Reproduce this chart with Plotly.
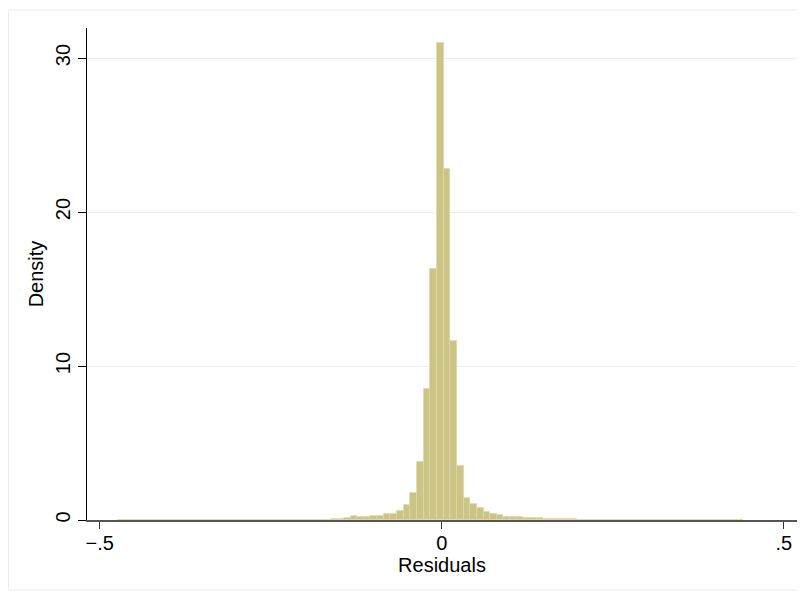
import numpy as np
import plotly.graph_objects as go

# Histogram of residuals (density scale)
bin_start = -0.4735
bin_width = 0.00972
density = [
    # left tail (bins 0-29)
    0.01, 0.01, 0.02, 0.02, 0.03, 0.02, 0.01, 0.01, 0.01, 0.01,
    0.01, 0.01, 0.01, 0.01, 0.01, 0.01, 0.01, 0.01, 0.01, 0.01,
    0.01, 0.01, 0.01, 0.01, 0.01, 0.02, 0.01, 0.02, 0.02, 0.02,
    # bins 30-47
    0.02, 0.03, 0.04, 0.05, 0.10, 0.26, 0.22, 0.22, 0.26, 0.26,
    0.37, 0.37, 0.58, 1.00, 1.77, 3.75, 8.50, 16.3,
    # peak bin 48
    30.95,
    # bins 49-70
    22.8, 11.6, 3.50, 1.40, 1.04, 0.80, 0.52, 0.41, 0.35, 0.22,
    0.20, 0.20, 0.15, 0.12, 0.10, 0.08, 0.06, 0.05, 0.04, 0.04,
    0.03, 0.03,
    # right tail (bins 71-93)
    0.02, 0.02, 0.02, 0.02, 0.01, 0.01, 0.01, 0.01, 0.01, 0.01,
    0.01, 0.01, 0.01, 0.01, 0.01, 0.01, 0.01, 0.01, 0.01, 0.01,
    0.01, 0.01, 0.01,
]
x_tickvals = [-0.5, 0, 0.5]
x_ticktext = ["\u2212.5", "0", ".5"]
y_tickvals = [0, 10, 20, 30]
y_ticktext = ["0", "10", "20", "30"]

centers = bin_start + bin_width * (np.arange(len(density)) + 0.5)

fig = go.Figure()
fig.add_trace(go.Bar(
    x=centers, y=density, width=bin_width,
    marker=dict(color="#CBC485", line=dict(color="#DCD7A8", width=0.8)),
    showlegend=False,
))

# page body has an 8px default margin; the figure is sized to fill the rest
W, H = 798, 588
L, R, T, B = 79, 9, 20, 76
PW, PH = W - L - R, H - T - B

FONT = "Liberation Sans, Arial, sans-serif"
fig.update_layout(
    width=W, height=H,
    margin=dict(l=L, r=R, t=T, b=B, autoexpand=False),
    paper_bgcolor="white", plot_bgcolor="white",
    bargap=0,
    font=dict(family=FONT, size=20, color="black"),
    xaxis=dict(
        range=[-0.5186, 0.5194], automargin=False,
        tickmode="array", tickvals=x_tickvals, ticktext=x_ticktext,
        ticks="outside", ticklen=7, tickcolor="#333", tickwidth=1,
        ticklabelstandoff=-3,
        showline=True, linecolor="#555", linewidth=1.5,
        showgrid=False, zeroline=False,
        title=dict(text="Residuals", standoff=2, font=dict(size=20)),
        tickfont=dict(size=20),
    ),
    yaxis=dict(
        range=[0, 31.95], automargin=False,
        tickmode="array", tickvals=y_tickvals, ticktext=y_ticktext,
        tickangle=-90,
        ticks="outside", ticklen=8, tickcolor="black", tickwidth=1,
        showline=True, linecolor="black", linewidth=1,
        showgrid=True, gridcolor="#E8EFF1", gridwidth=1,
        zeroline=False,
        title=dict(text="Density", standoff=3, font=dict(size=20)),
        tickfont=dict(size=20),
    ),
    shapes=[dict(
        type="rect", xref="paper", yref="paper",
        x0=(0.5 - L) / PW, x1=(792 - L) / PW,
        y0=(H - B - 582) / PH, y1=(H - B - 2) / PH,
        line=dict(color="#E8EEF0", width=1), fillcolor="rgba(0,0,0,0)",
        layer="below",
    )],
)

fig.write_html("out.html")
